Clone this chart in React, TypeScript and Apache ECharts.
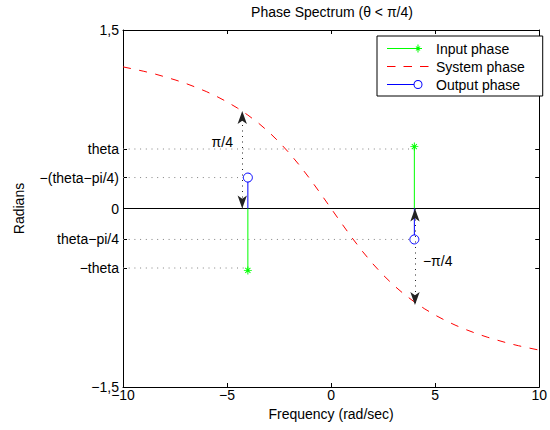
import React, { useEffect, useRef } from 'react';
import * as echarts from 'echarts';

// ---- data ----
const frequency = [
  -10, -9.5, -9, -8.5, -8, -7.5, -7, -6.5, -6, -5.5, -5, -4.5, -4, -3.5, -3, -2.5, -2, -1.5, -1, -0.5,
  0, 0.5, 1, 1.5, 2, 2.5, 3, 3.5, 4, 4.5, 5, 5.5, 6, 6.5, 7, 7.5, 8, 8.5, 9, 9.5, 10,
];
const systemPhase = [
  1.19, 1.172, 1.153, 1.132, 1.107, 1.081, 1.052, 1.019, 0.983, 0.942, 0.896, 0.844, 0.785, 0.719, 0.644, 0.559, 0.464, 0.359, 0.245, 0.124,
  0, -0.124, -0.245, -0.359, -0.464, -0.559, -0.644, -0.719, -0.785, -0.844, -0.896, -0.942, -0.983, -1.019, -1.052, -1.081, -1.107, -1.132, -1.153, -1.172, -1.19,
];
const stemFrequency = [-4, 4];
const inputPhase = [-0.52, 0.52];
const outputPhase = [0.26, -0.26];

const yTickValues = [-1.5, -0.5, -0.26, 0, 0.26, 0.5, 1.5];
const yTickLabels = ['\u22121,5', '\u2212theta', 'theta\u2212pi/4', '0', '\u2212(theta\u2212pi/4)', 'theta', '1,5'];

const guideLevels = [0.5, 0.26, -0.26, -0.5];
const guideEnds = [4, -4, 4, -4];

const arrowX = [-4.27, 4.03];
const arrowFrom = [0, 0];
const arrowTo = [0.82, -0.81];
const arrowLabels = ['\u03c0/4', '\u2212\u03c0/4'];
const arrowLabelX = [-5.23, 5.12];
const arrowLabelY = [0.56, -0.44];

const FONT = '"Liberation Sans", Arial, Helvetica, sans-serif';
const ASTERISK =
  'path://M-5,-0.6L5,-0.6L5,0.6L-5,0.6Z M-0.6,-5L0.6,-5L0.6,5L-0.6,5Z M3.6,2.8L2.8,3.6L-3.6,-2.8L-2.8,-3.6Z M2.8,-3.6L3.6,-2.8L-2.8,3.6L-3.6,2.8Z';

// legend icons (44 x 11 box, corner specks fix the bounding box)
const SPECKS = 'M0,0h0.05v0.05h-0.05z M43.95,10.95h0.05v0.05h-0.05z ';
const ICON_INPUT =
  'path://' +
  SPECKS +
  'M0,5h31v1H0z M27,5h8v1h-8z M30.5,1.5h1v8h-1z M33.37,7.23L32.73,7.87L28.63,3.77L29.27,3.13Z M32.73,3.13L33.37,3.77L29.27,7.87L28.63,7.23Z';
const ICON_SYSTEM = 'path://' + SPECKS + 'M0,5h8.5v1H0z M16.5,5h8.5v1h-8.5z M33,5h8.5v1h-8.5z';
const ICON_OUTPUT =
  'path://' +
  SPECKS +
  'M0,5h26.6v1H0z M35.5,5.5A4.5,4.5 0 1 1 26.5,5.5A4.5,4.5 0 1 1 35.5,5.5Z M34.5,5.5A3.5,3.5 0 1 0 27.5,5.5A3.5,3.5 0 1 0 34.5,5.5Z';

const fmtNum = (v: number) => String(v).replace('-', '\u2212').replace('.', ',');

export default function App() {
  const ref = useRef<HTMLDivElement>(null);
  useEffect(() => {
    if (!ref.current) return;
    const chart = echarts.init(ref.current, null, { renderer: 'svg' });

    const axisLineStyle = { show: true, onZero: false, lineStyle: { color: '#000', width: 1 } };
    const tickStyle = { show: true, inside: true, length: 4, lineStyle: { color: '#000', width: 1 } };

    const guideSeries = guideLevels.map((lvl, i) => ({
      type: 'line',
      name: 'guide' + i,
      data: [
        [-10, lvl],
        [guideEnds[i], lvl],
      ],
      symbol: 'none',
      silent: true,
      lineStyle: { color: '#808080', width: 1, type: [1, 4.7] },
      z: 1,
    }));

    const inputSeries = stemFrequency.map((f, i) => ({
      type: 'line',
      name: 'Input phase',
      data: [{ value: [f, 0], symbol: 'none' }, { value: [f, inputPhase[i]] }],
      symbol: ASTERISK,
      symbolSize: 8,
      itemStyle: { color: '#00ff00' },
      lineStyle: { color: '#00ff00', width: 1 },
      z: 4,
    }));

    const outputSeries = stemFrequency.map((f, i) => ({
      type: 'line',
      name: 'Output phase',
      data: [{ value: [f, 0], symbol: 'none' }, { value: [f, outputPhase[i]] }],
      symbol: 'circle',
      symbolSize: 9,
      itemStyle: { color: '#ffffff', borderColor: '#0000ff', borderWidth: 1 },
      lineStyle: { color: '#0000ff', width: 1 },
      z: 4,
    }));

    const legendItem = (name: string, icon: string, color: string) => ({
      name,
      icon,
      itemStyle: { color, borderWidth: 0, borderColor: 'rgba(0,0,0,0)' },
    });

    const option: any = {
      animation: false,
      textStyle: { fontFamily: FONT },
      title: {
        text: 'Phase Spectrum (\u03b8 < \u03c0/4)',
        left: 332,
        top: 5,
        padding: 0,
        textAlign: 'center',
        textStyle: { fontSize: 14, fontWeight: 'normal', color: '#000', fontFamily: FONT },
      },
      legend: {
        data: [
          legendItem('Input phase', ICON_INPUT, '#00ff00'),
          legendItem('System phase', ICON_SYSTEM, '#ff0000'),
          legendItem('Output phase', ICON_OUTPUT, '#0000ff'),
        ],
        orient: 'vertical',
        left: 377,
        top: 36,
        padding: [5.5, 18, 4.5, 10],
        itemWidth: 44,
        itemHeight: 11,
        itemGap: 4,
        symbolKeepAspect: true,
        borderColor: '#000',
        borderWidth: 1,
        borderRadius: 0,
        backgroundColor: '#fff',
        textStyle: { fontSize: 14, color: '#000', fontFamily: FONT },
        selectedMode: false,
      },
      grid: { left: 123, right: 9, top: 30, bottom: 43 },
      xAxis: [
        {
          type: 'value',
          min: -10,
          max: 10,
          interval: 5,
          position: 'bottom',
          axisLine: axisLineStyle,
          axisTick: tickStyle,
          splitLine: { show: false },
          axisLabel: { color: '#000', fontSize: 14, margin: 1, formatter: (v: number) => fmtNum(v), fontFamily: FONT },
          name: 'Frequency (rad/sec)',
          nameLocation: 'middle',
          nameGap: 16,
          nameTextStyle: { fontSize: 14, color: '#000', fontFamily: FONT },
        },
        {
          type: 'value',
          min: -10,
          max: 10,
          interval: 5,
          position: 'top',
          axisLine: axisLineStyle,
          axisTick: tickStyle,
          splitLine: { show: false },
          axisLabel: { show: false },
        },
      ],
      yAxis: [
        {
          type: 'value',
          min: -1.5,
          max: 1.5,
          position: 'left',
          axisLine: axisLineStyle,
          axisTick: { ...tickStyle, customValues: yTickValues },
          splitLine: { show: false },
          axisLabel: {
            color: '#000',
            fontSize: 14,
            margin: 4,
            fontFamily: FONT,
            customValues: yTickValues,
            formatter: (v: number) => {
              const i = yTickValues.findIndex((t) => Math.abs(t - v) < 1e-6);
              return i >= 0 ? yTickLabels[i] : '';
            },
          },
          name: 'Radians',
          nameLocation: 'middle',
          nameGap: 97,
          nameTextStyle: { fontSize: 14, color: '#000', fontFamily: FONT },
        },
        {
          type: 'value',
          min: -1.5,
          max: 1.5,
          position: 'right',
          axisLine: axisLineStyle,
          axisTick: { ...tickStyle, customValues: yTickValues },
          splitLine: { show: false },
          axisLabel: { show: false, customValues: yTickValues },
        },
      ],
      series: [
        ...guideSeries,
        {
          type: 'line',
          name: 'zero',
          data: [
            [-10, 0],
            [10, 0],
          ],
          symbol: 'none',
          silent: true,
          lineStyle: { color: '#000', width: 1 },
          z: 2,
          markLine: {
            silent: true,
            symbol: ['arrow', 'arrow'],
            symbolSize: [7, 13],
            label: { show: false },
            emphasis: { disabled: true },
            lineStyle: { color: '#222', width: 1, type: [1, 4.5] },
            itemStyle: { color: '#000' },
            data: arrowX.map((x, i) => [
              { coord: [x, arrowFrom[i]], itemStyle: { color: '#000' } },
              { coord: [x, arrowTo[i]], itemStyle: { color: '#000' } },
            ]),
          },
          markPoint: {
            silent: true,
            symbol: 'circle',
            symbolSize: 0,
            label: {
              show: true,
              position: 'inside',
              color: '#000',
              fontSize: 14,
              fontFamily: FONT,
              formatter: (p: any) => p.name,
            },
            data: arrowLabels.map((t, i) => ({ name: t, coord: [arrowLabelX[i], arrowLabelY[i]] })),
          },
        },
        {
          type: 'line',
          name: 'System phase',
          data: frequency.map((f, i) => [f, systemPhase[i]]),
          symbol: 'none',
          itemStyle: { color: '#ff0000' },
          lineStyle: { color: '#ff0000', width: 1, type: [8, 8.5] },
          z: 3,
        },
        ...inputSeries,
        ...outputSeries,
      ],
    };

    chart.setOption(option);
    return () => chart.dispose();
  }, []);

  return (
    <div
      ref={ref}
      style={{ position: 'fixed', left: 0, top: 0, width: 550, height: 430, background: '#fff' }}
    />
  );
}
